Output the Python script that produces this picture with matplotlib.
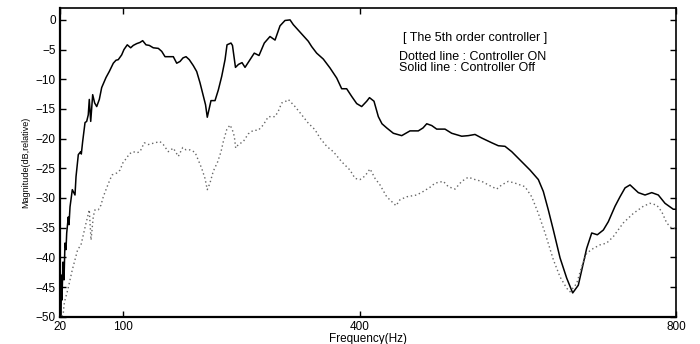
import matplotlib
matplotlib.use('Agg')
import matplotlib.pyplot as plt

plt.rcParams['font.family'] = ['Liberation Sans', 'DejaVu Sans']

# Controller Off (solid line): frequency (Hz), magnitude (dB, relative)
off_freq = [21.3, 21.9, 22.5, 23.8, 25.1, 26.3, 27.6, 28.5, 30.5, 31.4, 32.7, 35.6, 39.0,
            40.3, 43.2, 46.2, 47.0, 48.7, 51.7, 53.8, 55.8, 57.1, 58.9, 61.4, 63.9, 66.5,
            69.8, 72.8, 78.3, 82.4, 87.5, 90.9, 93.8, 98.1, 101, 105.2, 109.5, 112.8, 117.1,
            121.3, 124.7, 128.9, 133.1, 138.1, 144.5, 148.8, 153, 159.3, 163.5, 167.8, 172,
            175.8, 179.6, 183.7, 188.8, 193.1, 197.3, 201.5, 204.3, 206.5, 208.7, 211.2,
            216.3, 220.5, 224.8, 229, 231.5, 236.5, 238.4, 242.2, 246, 250.5, 254.3, 260.6,
            266, 272, 278.7, 285.9, 292.3, 298.6, 304.9, 311.3, 315.4, 321.8, 327.7, 334.4,
            338.7, 345, 353.4, 361.9, 370.4, 376.7, 383, 389.4, 395.7, 402, 408.4, 411.9,
            417.6, 423.1, 427.7, 433.7, 442.1, 452.7, 463.2, 473.7, 479.7, 484.4, 490.7, 497,
            507.5, 516, 528.7, 537, 545.5, 554, 566.7, 575, 583.5, 592, 602.5, 615.2, 625.7,
            632, 638.3, 644.7, 653.2, 661.6, 669.2, 676.3, 682.6, 686.9, 693.3, 700.4, 708,
            714.3, 722.8, 729.1, 735.5, 741.8, 752.3, 760.8, 769.3, 777.6, 786.1, 796.6, 800]
off_db = [-50.0, -43.0, -47.2, -40.8, -43.8, -37.6, -38.7, -35.9, -33.2, -34.5, -31.5, -28.6,
          -29.5, -26.4, -22.7, -22.2, -22.6, -20.5, -17.3, -17.1, -16.0, -13.4, -17.1, -12.6,
          -14.0, -14.6, -13.4, -11.4, -9.7, -8.7, -7.3, -6.8, -6.7, -5.9, -5.0, -4.2, -4.7,
          -4.3, -4.0, -3.8, -3.5, -4.2, -4.3, -4.7, -4.8, -5.3, -6.2, -6.2, -6.2, -7.3, -7.0,
          -6.4, -6.2, -6.7, -7.7, -8.7, -10.6, -12.8, -14.3, -16.4, -15.1, -13.6, -13.6,
          -11.8, -9.5, -6.7, -4.2, -3.9, -4.3, -8.0, -7.5, -7.2, -8.0, -6.7, -5.6, -6.0,
          -3.9, -2.8, -3.4, -1.0, -0.1, 0.0, -0.8, -1.75, -2.6, -3.6, -4.5, -5.6, -6.6,
          -8.1, -9.8, -11.6, -11.6, -12.9, -14.1, -14.6, -13.7, -13.1, -13.7, -16.3, -17.5,
          -18.2, -19.1, -19.5, -18.7, -18.7, -18.2, -17.5, -17.8, -18.4, -18.4, -19.1, -19.6,
          -19.5, -19.3, -19.9, -20.7, -21.2, -21.3, -22.2, -23.6, -25.3, -26.9, -28.9, -32.0,
          -35.4, -40.1, -43.5, -46.0, -44.7, -41.0, -38.5, -35.9, -36.2, -35.4, -34.0, -31.4,
          -29.8, -28.3, -27.8, -29.1, -29.5, -29.1, -29.5, -30.9, -31.9, -31.9]

# Controller ON (dotted line)
on_freq = [22.5, 24.2, 25.1, 26.3, 29.8, 32.7, 35.6, 39.0, 42.4, 46.6, 49.5, 52.5, 55.1,
           57.1, 59.3, 62.2, 64.3, 68.5, 71.9, 74.8, 79.1, 83.3, 86.2, 91.8, 96, 100.2,
           104.5, 107.4, 112.8, 117.1, 121.3, 126.7, 131.8, 140.3, 146.6, 150.8, 157.1,
           163.5, 169.8, 175.4, 179.6, 184.6, 191, 195.1, 199.4, 203.6, 206.5, 209.9, 214.1,
           219.7, 223.9, 226.8, 231.1, 235.3, 238.2, 240.7, 242.5, 245.8, 252.1, 258.4,
           264.8, 271.1, 277.4, 283.8, 292.3, 296.4, 300.7, 304.9, 309.1, 317.6, 326.1,
           334.4, 342.9, 349.2, 357.7, 366.1, 376.7, 387.2, 393.6, 399.9, 406.2, 412.6,
           418.9, 425.2, 433.7, 440, 445.5, 450.5, 459, 471.7, 480, 488.5, 494.9, 505.4,
           511.7, 520.2, 528.7, 537, 545.5, 554, 562.4, 573, 579.3, 587.7, 596.2, 602.5,
           608.8, 617.3, 625.7, 634.2, 644.7, 653.2, 661.6, 665.8, 674.3, 680.5, 686.9,
           695.3, 703.8, 712.2, 720.7, 733.3, 746, 758.6, 767.1, 775.6, 781.9, 788.2, 794.5,
           800]
on_db = [-50.0, -49.4, -48.0, -47.2, -45.5, -43.8, -42.1, -40.4, -38.7, -37.9, -36.2, -34.5,
         -33.1, -32.0, -37.1, -33.1, -32.0, -32.0, -31.2, -29.8, -28.3, -26.9, -26.1, -25.8,
         -25.3, -23.9, -23.3, -22.6, -22.2, -22.4, -22.2, -20.7, -21.0, -20.7, -20.5, -21.0,
         -22.2, -21.6, -23.0, -21.5, -21.9, -21.9, -22.3, -23.6, -25.0, -26.7, -28.6, -27.5,
         -25.5, -23.9, -22.2, -20.5, -18.5, -17.7, -18.5, -19.6, -21.6, -21.0, -20.5, -19.2,
         -18.6, -18.6, -17.7, -16.3, -16.3, -15.4, -14.0, -13.8, -13.4, -14.6, -16.0, -17.4,
         -18.5, -19.9, -21.3, -22.2, -23.9, -25.3, -26.7, -26.9, -26.3, -25.1, -26.7, -27.8,
         -29.8, -30.6, -31.3, -30.3, -29.8, -29.5, -28.9, -28.2, -27.5, -27.2, -28.1, -28.5,
         -27.2, -26.5, -26.9, -27.2, -27.8, -28.5, -27.8, -27.2, -27.5, -27.8, -28.1, -29.8,
         -32.6, -35.9, -40.4, -43.3, -45.2, -45.8, -44.4, -41.6, -39.3, -38.5, -37.9, -37.6,
         -36.5, -34.2, -32.6, -31.4, -30.9, -31.2, -32.3, -34.2, -35.1, -35.1]

x_ticks = [20, 100, 400, 800]
y_ticks = list(range(-50, 1, 5))

fig = plt.figure(figsize=(7, 3.44), dpi=100)
ax = fig.add_axes([0.0857, 0.0794, 0.88, 0.8973])

ax.plot(off_freq, off_db, color='black', linewidth=1.1)
ax.plot(on_freq, on_db, color='#666666', linestyle=(0, (1, 2)), linewidth=1.0)

ax.set_xlim(20, 800)
ax.set_ylim(-50, 2)
ax.set_xticks(x_ticks)
ax.set_yticks(y_ticks)
ax.tick_params(direction='in', length=4, width=1, labelsize=8.5, top=True, right=True, pad=3)

for side in ['left', 'bottom']:
    ax.spines[side].set_linewidth(1.6)
for side in ['top', 'right']:
    ax.spines[side].set_linewidth(1.2)

ax.set_xlabel('Frequency(Hz)', fontsize=8.5, labelpad=0)
ax.set_ylabel('Magnitude(dB,relative)', fontsize=6.5, labelpad=4)

ax.text(0.557, 0.903, '[ The 5th order controller ]', transform=ax.transAxes,
        fontsize=9, va='center', ha='left')
ax.text(0.550, 0.842, 'Dotted line : Controller ON', transform=ax.transAxes,
        fontsize=9, va='center', ha='left')
ax.text(0.550, 0.806, 'Solid line : Controller Off', transform=ax.transAxes,
        fontsize=9, va='center', ha='left')

fig.savefig('out.png', dpi=100)
